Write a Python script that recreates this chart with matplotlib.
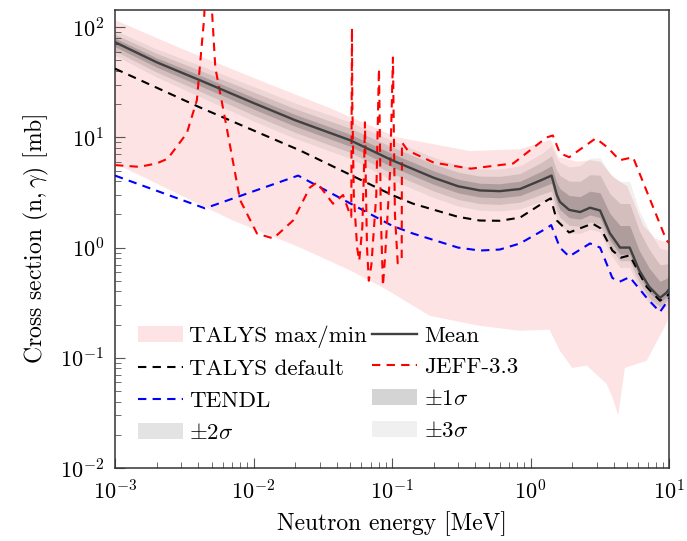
import numpy as np
import matplotlib
matplotlib.use("Agg")
import matplotlib.pyplot as plt

plt.rcParams["font.family"] = ["cmr10", "DejaVu Serif"]
plt.rcParams["mathtext.fontset"] = "cm"
plt.rcParams["axes.formatter.use_mathtext"] = True
plt.rcParams["axes.unicode_minus"] = False

# --- data (energy in MeV, cross section in mb) ---
mean_e = [1e-3, 2e-3, 4.1e-3, 1e-2, 2e-2, 5e-2, 0.1, 0.2, 0.3, 0.43, 0.6, 0.84,
          1.2, 1.42, 1.55, 1.63, 1.9, 2.28, 2.69, 3.18, 3.74, 4.43, 5.2, 6.1,
          7.2, 8.6, 9.6, 10]
mean_xs = [73, 48, 33, 20.5, 14.3, 9.4, 6.2, 4.3, 3.6, 3.3, 3.25, 3.4,
           4.1, 4.5, 3.0, 2.6, 2.2, 2.1, 2.3, 2.17, 1.35, 1.0, 1.0, 0.62,
           0.44, 0.35, 0.39, 0.42]
# one-sigma widths in decades above / below the mean
sig_up = [.036, .04, .045, .05, .052, .055, .06, .062, .064, .065, .067, .07,
          .08, .09, .11, .12, .13, .14, .15, .16, .18, .2, .2, .18,
          .17, .15, .13, .12]
sig_dn = [.04, .045, .05, .055, .055, .055, .06, .06, .06, .06, .06, .06,
          .065, .07, .07, .07, .07, .065, .065, .065, .06, .06, .06, .055,
          .05, .04, .04, .04]

max_e = [1e-3, 3e-3, 1.2e-2, 3.56e-2, 0.109, 0.366, 0.84, 1.4, 1.6, 2.2, 2.7,
         3.2, 4.0, 5.0, 6.5, 8.0, 10]
max_xs = [116, 64, 31.6, 18.4, 10.0, 7.5, 7.8, 9.5, 6.6, 6.0, 6.2, 6.0, 4.3,
          3.6, 1.6, 1.2, 1.1]
min_e = [1e-3, 1.8e-3, 7.1e-3, 2.17e-2, 5e-2, 0.09, 0.188, 0.43, 0.84, 1.37,
         1.63, 2.0, 2.55, 3.55, 3.93, 4.3, 4.8, 6.9, 9.7, 10]
min_xs = [5.8, 4.06, 1.76, 1.0, 0.62, 0.42, 0.24, 0.195, 0.176, 0.18,
          0.116, 0.081, 0.085, 0.058, 0.043, 0.030, 0.081, 0.094, 0.21, 0.25]

default_e = [1e-3, 4.1e-3, 2.17e-2, 0.1, 0.142, 0.3, 0.43, 0.6, 0.84, 1.31, 1.4,
             1.55, 1.9, 2.8, 3.2, 3.9, 4.5, 5.2, 6.9, 8.6, 9.8, 10]
default_xs = [42, 18.7, 7.6, 3.0, 2.5, 1.9, 1.76, 1.75, 1.87, 2.67, 2.8,
              1.76, 1.37, 1.65, 1.5, 0.94, 0.81, 0.85, 0.44, 0.33, 0.37, 0.38]

tendl_e = [1e-3, 4.46e-3, 2.1e-2, 0.1, 0.142, 0.3, 0.43, 0.6, 0.84, 1.31, 1.41,
           1.63, 1.9, 2.69, 3.18, 3.9, 4.4, 5.2, 6.9, 8.6, 9.8, 10]
tendl_xs = [4.5, 2.27, 4.5, 1.58, 1.34, 1.0, 0.94, 0.96, 1.09, 1.5, 1.6,
            1.0, 0.83, 1.09, 1.0, 0.53, 0.49, 0.54, 0.35, 0.26, 0.33, 0.35]

jeff_e = [1e-3, 1.5e-3, 2.0e-3, 2.4e-3, 3.3e-3, 3.9e-3, 4.4e-3, 4.7e-3, 5.0e-3,
          5.3e-3, 6.4e-3, 8.0e-3, 1.06e-2, 1.39e-2, 1.93e-2, 2.55e-2, 2.87e-2,
          3.75e-2, 4.43e-2, 4.97e-2, 0.0508, 0.0512, 0.0514, 0.0517, 0.053, 0.056,
          0.058, 0.061, 0.063, 0.0638, 0.0645, 0.066, 0.068, 0.071, 0.077, 0.080,
          0.0805, 0.0812, 0.083, 0.086, 0.089, 0.097, 0.101, 0.1016, 0.1025, 0.105,
          0.11, 0.1175, 0.118, 0.13, 0.2, 0.37, 0.75, 1.31, 1.45, 1.63, 1.9,
          2.96, 3.6, 4.4, 5.5, 9.6, 10]
jeff_xs = [5.6, 5.4, 5.8, 6.4, 10.9, 21.7, 120, 900, 150,
           43, 12.3, 2.7, 1.34, 1.21, 1.76, 3.5, 3.9,
           2.5, 3.0, 2.0, 1.9, 30, 98, 20, 3.0, 1.0,
           0.76, 1.5, 6.0, 13.7, 5.0, 1.0, 0.5, 0.7, 3.0, 30,
           42, 20, 2.0, 0.45, 0.8, 5.0, 40, 53, 20, 2.0,
           0.72, 0.8, 9.0, 7.6, 5.9, 5.2, 5.8, 10.0, 10.4, 7.2, 6.6,
           9.8, 8.1, 6.2, 6.6, 1.16, 1.1]


def main():
    fig = plt.figure(figsize=(6.87, 5.41), dpi=100)
    ax = fig.add_axes([0.1674, 0.1349, 0.8064, 0.8466])

    me = np.array(mean_e)
    mx = np.array(mean_xs)
    up = np.array(sig_up)
    dn = np.array(sig_dn)

    # pink envelope: polygon from the max curve and the reversed min curve
    env_x = list(max_e) + list(min_e[::-1])
    env_y = list(max_xs) + list(min_xs[::-1])
    ax.fill(env_x, env_y, color="#fde3e3", lw=0, zorder=1, label="TALYS max/min")

    band_alpha = {3: 0.06, 2: 0.11, 1: 0.17}
    for k in (3, 2, 1):
        ax.fill_between(me, mx * 10 ** (-k * dn), mx * 10 ** (k * up),
                        color="black", alpha=band_alpha[k], lw=0, zorder=2,
                        label=rf"$\pm{k}\sigma$")

    dash = (4, 3)
    ax.plot(default_e, default_xs, color="black", lw=1.5, dashes=dash,
            zorder=3, label="TALYS default")
    ax.plot(tendl_e, tendl_xs, color="blue", lw=1.5, dashes=dash,
            zorder=3, label="TENDL")
    ax.plot(jeff_e, jeff_xs, color="red", lw=1.5, dashes=dash,
            zorder=4, label="JEFF-3.3")
    ax.plot(me, mx, color="#404040", lw=1.7, zorder=5, label="Mean")

    ax.set_xscale("log")
    ax.set_yscale("log")
    ax.set_xlim(1e-3, 10)
    ax.set_ylim(1e-2, 143)

    ax.set_xlabel("Neutron energy [MeV]", fontsize=17, labelpad=6)
    ax.set_ylabel(r"Cross section $(\mathrm{n},\gamma)$ [mb]", fontsize=17,
                  labelpad=6)

    ax.tick_params(which="both", direction="in", top=False, right=False,
                   labelsize=16, color="#555555")
    ax.tick_params(which="major", length=7, width=0.8, pad=8)
    ax.tick_params(which="minor", length=4.5, width=0.6)
    for s in ax.spines.values():
        s.set_color("#333333")
        s.set_linewidth(1.1)

    handles, labels = ax.get_legend_handles_labels()
    lookup = dict(zip(labels, handles))
    order = ["TALYS max/min", "TALYS default", "TENDL", r"$\pm2\sigma$",
             "Mean", "JEFF-3.3", r"$\pm1\sigma$", r"$\pm3\sigma$"]
    ax.legend([lookup[o] for o in order], order, ncol=2, loc="lower left",
              bbox_to_anchor=(0.012, 0.02), frameon=False, fontsize=16.5,
              handlelength=1.97, handletextpad=0.28, columnspacing=0.22,
              labelspacing=0.51, borderpad=0.2)

    fig.savefig("out.png", dpi=100)


if __name__ == "__main__":
    main()
